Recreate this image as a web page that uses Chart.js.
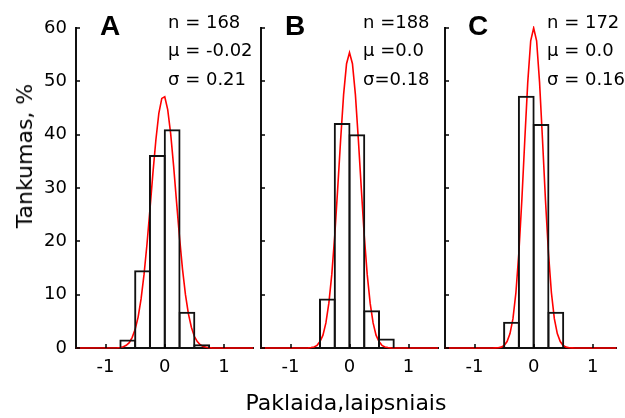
<!DOCTYPE html>
<html><head><meta charset="utf-8">
<script src="https://cdn.jsdelivr.net/npm/chart.js@4.4.1/dist/chart.umd.min.js"></script>
<style>
html,body{margin:0;padding:0;background:#fff;}
#wrap{position:relative;width:625px;height:418px;overflow:hidden;background:#fff;}
canvas{position:absolute;left:0;top:0;}
.t{position:absolute;font-family:"DejaVu Sans";color:#000;white-space:nowrap;}
.L{font-family:"Liberation Sans";font-weight:bold;font-size:28px;line-height:28px;}
.s{font-size:18px;line-height:28.3px;}
.ax{font-size:22px;line-height:22px;}
</style></head><body>
<div id="wrap">
<canvas id="cA" width="625" height="418"></canvas>
<canvas id="cB" width="625" height="418"></canvas>
<canvas id="cC" width="625" height="418"></canvas>
<div class="t L" style="left:100px;top:12px;">A</div>
<div class="t L" style="left:285px;top:12px;">B</div>
<div class="t L" style="left:468px;top:12px;">C</div>
<div class="t s" style="left:168px;top:8px;">n = 168<br>μ = -0.02<br>σ = 0.21</div>
<div class="t s" style="left:363px;top:8px;">n =188<br>μ =0.0<br>σ=0.18</div>
<div class="t s" style="left:547px;top:8px;">n = 172<br>μ = 0.0<br>σ = 0.16</div>
<div class="t ax" style="left:25px;top:156px;transform:translate(-50%,-50%) rotate(-90deg);">Tankumas, %</div>
<div class="t ax" style="left:346px;top:392px;transform:translateX(-50%);">Paklaida,laipsniais</div>
</div>
<script>
const xTicks = [-1, 0, 1];
const yTicks = [0, 10, 20, 30, 40, 50, 60];

const binCentersA = [-0.625, -0.375, -0.125, 0.125, 0.375, 0.625];
const densityA    = [1.6, 14.6, 36.2, 41.0, 6.8, 0.7];
const binCentersB = [-0.375, -0.125, 0.125, 0.375, 0.625];
const densityB    = [9.3, 42.2, 40.1, 7.1, 1.8];
const binCentersC = [-0.375, -0.125, 0.125, 0.375];
const densityC    = [4.9, 47.3, 42.0, 6.8];

const curveX = [-1.5, -0.8, -0.75, -0.7, -0.65, -0.6, -0.55, -0.5, -0.45, -0.4, -0.35, -0.3, -0.25, -0.2, -0.15, -0.1, -0.05, 0,
                0.05, 0.1, 0.15, 0.2, 0.25, 0.3, 0.35, 0.4, 0.45, 0.5, 0.55, 0.6, 0.65, 0.7, 0.75, 0.8, 1.5];
const curveA = [0, 0.05, 0.1, 0.25, 0.5, 1.0, 2.0, 3.5, 5.8, 9.2, 13.8, 19.5, 26.0, 32.8, 39.0, 44.0, 46.8, 47.1,
                44.7, 40.2, 34.1, 27.3, 20.7, 14.8, 10.0, 6.4, 3.9, 2.2, 1.2, 0.6, 0.3, 0.13, 0.06, 0.02, 0];
const curveB = [0, 0, 0.01, 0.03, 0.08, 0.2, 0.5, 1.2, 2.4, 4.7, 8.4, 13.8, 21.1, 29.9, 39.1, 47.5, 53.3, 55.4,
                53.3, 47.5, 39.1, 29.9, 21.1, 13.8, 8.4, 4.7, 2.4, 1.2, 0.5, 0.2, 0.08, 0.03, 0.01, 0, 0];
const curveC = [0, 0, 0, 0, 0.02, 0.05, 0.16, 0.46, 1.2, 2.7, 5.5, 10.4, 17.9, 27.7, 39.0, 49.8, 57.6, 60.0,
                57.6, 49.8, 39.0, 27.7, 17.9, 10.4, 5.5, 2.7, 1.2, 0.46, 0.16, 0.05, 0.02, 0, 0, 0, 0];

const inwardTicks = {
  id: 'inwardTicks',
  afterDatasetsDraw(chart) {
    const {ctx, chartArea, scales: {x, y}} = chart;
    ctx.save();
    ctx.strokeStyle = '#000';
    ctx.lineWidth = 1.5;
    ctx.beginPath();
    yTicks.forEach(v => {
      const py = Math.round(y.getPixelForValue(v));
      ctx.moveTo(chartArea.left, py); ctx.lineTo(chartArea.left + 4, py);
    });
    xTicks.forEach(v => {
      const px = Math.round(x.getPixelForValue(v));
      ctx.moveTo(px, chartArea.bottom); ctx.lineTo(px, chartArea.bottom - 4);
    });
    ctx.stroke();
    ctx.restore();
  }
};

const tickFont = {family: 'DejaVu Sans', size: 18};

function makeChart(id, centers, vals, curve, xMax, yWidth, padRight, showY) {
  return new Chart(document.getElementById(id), {
    type: 'bar',
    data: {
      datasets: [
        {
          type: 'bar',
          data: centers.map((c, i) => ({x: c, y: vals[i]})),
          backgroundColor: 'rgba(0,0,0,0)',
          borderColor: '#111',
          borderWidth: 2,
          barPercentage: 1.136,
          categoryPercentage: 1,
          order: 0
        },
        {
          type: 'line',
          data: curveX.map((c, i) => ({x: c, y: curve[i]})),
          borderColor: '#ff0000',
          borderWidth: 1.6,
          pointRadius: 0,
          tension: 0,
          fill: false,
          clip: {left: 2, top: 2, right: 0, bottom: 3},
          order: 1
        }
      ]
    },
    options: {
      responsive: false,
      animation: false,
      devicePixelRatio: 1,
      layout: {padding: {left: 0, right: padRight, top: 28, bottom: 0}},
      plugins: {legend: {display: false}, tooltip: {enabled: false}, title: {display: false}},
      scales: {
        x: {
          type: 'linear', min: -1.5, max: xMax, offset: false,
          grid: {display: false, drawTicks: false},
          border: {display: true, color: '#111', width: 2},
          ticks: {font: tickFont, color: '#000', padding: 9, maxRotation: 0},
          afterBuildTicks: s => { s.ticks = xTicks.map(v => ({value: v})); },
          afterFit: s => { s.height = 70; }
        },
        y: {
          type: 'linear', min: 0, max: 60,
          grid: {display: false, drawTicks: false},
          border: {display: true, color: '#111', width: 2},
          ticks: {display: showY, font: tickFont, color: '#000', padding: 9},
          afterBuildTicks: s => { s.ticks = yTicks.map(v => ({value: v})); },
          afterFit: s => { s.width = yWidth; }
        }
      }
    },
    plugins: [inwardTicks]
  });
}

makeChart('cA', binCentersA, densityA, curveA, 1.5, 76, 371.5, true);
makeChart('cB', binCentersB, densityB, curveB, 1.5, 261, 187, false);
makeChart('cC', binCentersC, densityC, curveC, 1.4, 445, 8.6, false);
</script>
</body></html>
